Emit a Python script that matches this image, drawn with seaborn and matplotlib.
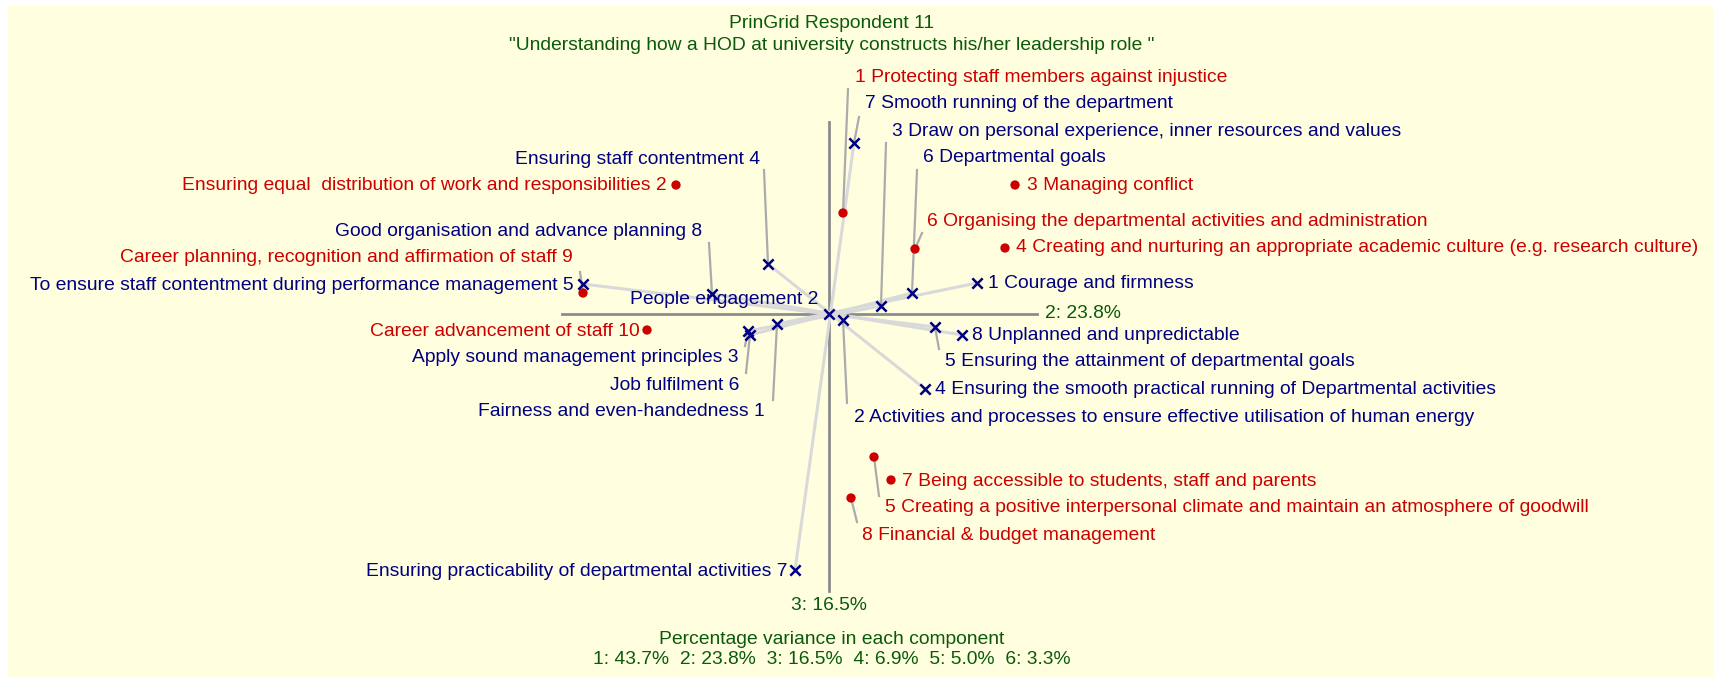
import matplotlib
matplotlib.use('Agg')
import matplotlib.pyplot as plt
import seaborn as sns
import pandas as pd
from matplotlib.patches import Rectangle

W, H, DPI = 1713, 677, 100
OX, OY = 829, 314     # origin of the biplot in pixels
PPU = 100             # pixels per score unit

RED = '#CC0000'
BLUE = '#000080'
GREEN = '#0B5A0B'
BG = '#FFFFE0'

# element scores on components 2 and 3
elements = ['Protecting staff members against injustice',
            'Ensuring equal  distribution of work and responsibilities',
            'Managing conflict',
            'Creating and nurturing an appropriate academic culture (e.g. research culture)',
            'Creating a positive interpersonal climate and maintain an atmosphere of goodwill',
            'Organising the departmental activities and administration',
            'Being accessible to students, staff and parents',
            'Financial & budget management',
            'Career planning, recognition and affirmation of staff',
            'Career advancement of staff']
elem_x = [0.14, -1.53, 1.86, 1.76, 0.45, 0.86, 0.62, 0.22, -2.46, -1.82]
elem_y = [1.01, 1.29, 1.29, 0.66, -1.43, 0.65, -1.66, -1.84, 0.21, -0.16]

# construct poles: right pole / left pole
right_poles = ['Courage and firmness',
               'Activities and processes to ensure effective utilisation of human energy',
               'Draw on personal experience, inner resources and values',
               'Ensuring the smooth practical running of Departmental activities',
               'Ensuring the attainment of departmental goals',
               'Departmental goals',
               'Smooth running of the department',
               'Unplanned and unpredictable']
right_x = [1.48, 0.14, 0.52, 0.96, 1.06, 0.83, 0.25, 1.33]
right_y = [0.31, -0.06, 0.08, -0.75, -0.13, 0.21, 1.71, -0.21]

left_poles = ['Fairness and even-handedness',
              'People engagement',
              'Apply sound management principles',
              'Ensuring staff contentment',
              'To ensure staff contentment during performance management',
              'Job fulfilment',
              'Ensuring practicability of departmental activities',
              'Good organisation and advance planning']
left_x = [-0.52, 0.0, -0.81, -0.61, -2.46, -0.79, -0.34, -1.17]
left_y = [-0.10, 0.0, -0.17, 0.50, 0.30, -0.21, -2.56, 0.20]

variance = [43.7, 23.8, 16.5, 6.9, 5.0, 3.3]
axis_x_extent = [-2.67, 2.08]
axis_y_extent = [-2.77, 1.92]

# label layout in pixels: (label x, label y, ha, leader end x, leader end y)
elem_layout = [(855, 77, 'left', 848, 89),
               (667, 186, 'right', None, None),
               (1027, 186, 'left', None, None),
               (1016, 248, 'left', None, None),
               (885, 508, 'left', 879, 496),
               (927, 221, 'left', 922, 233),
               (902, 481, 'left', None, None),
               (862, 535, 'left', 857, 522),
               (573, 258, 'right', 580, 272),
               (640, 331, 'right', None, None)]
right_layout = [(988, 283, 'left', None, None),
                (854, 417, 'left', 847, 403),
                (892, 131, 'left', 886, 143),
                (935, 390, 'left', None, None),
                (945, 362, 'left', 939, 349),
                (923, 158, 'left', 917, 170),
                (865, 104, 'left', 859, 117),
                (972, 335, 'left', None, None)]
left_layout = [(765, 412, 'right', 773, 400),
               (818, 300, 'right', None, None),
               (738, 358, 'right', 745, 346),
               (760, 159, 'right', 764, 170),
               (574, 285, 'right', None, None),
               (739, 385, 'right', 746, 373),
               (787, 571, 'right', None, None),
               (702, 231, 'right', 709, 243)]


def dx(px):
    return (px - OX) / PPU


def dy(py):
    return (OY - py) / PPU


plt.rcParams['font.family'] = ['Liberation Sans', 'DejaVu Sans']
fig = plt.figure(figsize=(W / DPI, H / DPI), dpi=DPI, facecolor='white')
fig.patches.append(Rectangle((8 / W, 0), 1, 1 - 6 / H, transform=fig.transFigure,
                             facecolor=BG, edgecolor='none', zorder=-10))
ax = fig.add_axes([0, 0, 1, 1])
ax.set_facecolor('none')

FS = 13.9

# axes of the plot
ax.plot(axis_x_extent, [0, 0], color='#8C8C8C', lw=2, zorder=1)
ax.plot([0, 0], axis_y_extent, color='#8C8C8C', lw=2, zorder=1)
ax.text(axis_x_extent[1] + 0.08, 0, '2: %.1f%%' % variance[1], color=GREEN,
        fontsize=FS, ha='left', va='center')
ax.text(0, axis_y_extent[0] - 0.14, '3: %.1f%%' % variance[2], color=GREEN,
        fontsize=FS, ha='center', va='center')

# construct vectors
for i in range(len(right_x)):
    ax.plot([left_x[i], right_x[i]], [left_y[i], right_y[i]],
            color='#D9D9D9', lw=2.2, zorder=2, solid_capstyle='butt')


def put_labels(xs, ys, texts, layout, color):
    for i, (x, y) in enumerate(zip(xs, ys)):
        lx, ly, ha, ex, ey = layout[i]
        if ex is not None:
            ax.plot([x, dx(ex)], [y, dy(ey)], color='#ABABAB', lw=1.6, zorder=3)
        # number goes on the side facing the mark
        t = f'{i + 1} {texts[i]}' if ha == 'left' else f'{texts[i]} {i + 1}'
        ax.text(dx(lx), dy(ly), t, color=color, fontsize=FS, ha=ha, va='center', zorder=5)


put_labels(elem_x, elem_y, elements, elem_layout, RED)
put_labels(right_x, right_y, right_poles, right_layout, BLUE)
put_labels(left_x, left_y, left_poles, left_layout, BLUE)

el_df = pd.DataFrame({'x': elem_x, 'y': elem_y})
con_df = pd.DataFrame({'x': right_x + left_x, 'y': right_y + left_y})
sns.scatterplot(data=el_df, x='x', y='y', ax=ax, color=RED, s=45,
                edgecolor='none', zorder=6, legend=False)
sns.scatterplot(data=con_df, x='x', y='y', ax=ax, color=BLUE, marker='x', s=55,
                linewidth=1.8, zorder=6, legend=False)
ax.set_xlim(dx(0), dx(W))
ax.set_ylim(dy(H), dy(0))
ax.axis('off')

# titles
fig.text(832 / W, 1 - 24 / H, 'PrinGrid Respondent 11', color=GREEN, fontsize=FS,
         ha='center', va='center')
fig.text(832 / W, 1 - 46 / H,
         '"Understanding how a HOD at university constructs his/her leadership role "',
         color=GREEN, fontsize=FS, ha='center', va='center')
fig.text(832 / W, 1 - 639 / H, 'Percentage variance in each component', color=GREEN,
         fontsize=FS, ha='center', va='center')
fig.text(832 / W, 1 - 660 / H,
         '  '.join(f'{i + 1}: {v:.1f}%' for i, v in enumerate(variance)),
         color=GREEN, fontsize=FS, ha='center', va='center')

fig.savefig('out.png', dpi=DPI, facecolor='white')
